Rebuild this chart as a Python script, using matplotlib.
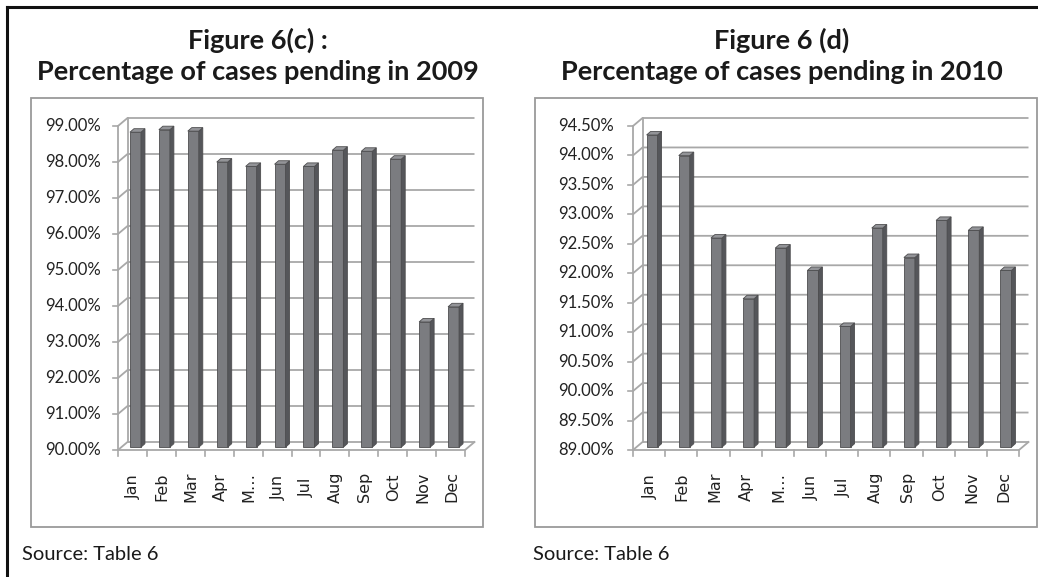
import matplotlib
matplotlib.use("Agg")
import matplotlib.pyplot as plt
import numpy as np
from matplotlib.patches import Rectangle
from matplotlib.lines import Line2D

months = ["Jan", "Feb", "Mar", "Apr", "M…", "Jun", "Jul", "Aug", "Sep", "Oct", "Nov", "Dec"]
pending_2009 = [98.75, 98.82, 98.78, 97.92, 97.80, 97.86, 97.80, 98.25, 98.22, 98.00, 93.48, 93.90]
pending_2010 = [94.30, 93.95, 92.55, 91.52, 92.38, 92.00, 91.05, 92.72, 92.22, 92.85, 92.68, 92.00]
ticks_2009 = np.arange(90, 99.01, 1.0)
ticks_2010 = np.arange(89, 94.51, 0.5)

W, H = 1038, 577
GRID = "#a8a8a8"
FRONT = "#7b7c80"
SIDE = "#55565a"
TOP = "#939498"
EDGE = "#4d4d4f"

fig = plt.figure(figsize=(W / 100, H / 100), dpi=100)
fig.patch.set_facecolor("white")


def fig_line(xs, ys, **kw):
    fig.add_artist(Line2D([x / W for x in xs], [1 - y / H for y in ys], **kw))


def draw_chart(x0, x1, ytop, ybot, values, ticks, lab_right):
    ax = fig.add_axes([x0 / W, 1 - ybot / H, (x1 - x0) / W, (ybot - ytop) / H])
    lo, hi = ticks[0], ticks[-1]
    n = len(values)
    ax.set_xlim(-0.5, n - 0.5)
    ax.set_ylim(lo, hi)
    ax.axis("off")
    sx = n / (x1 - x0)
    sy = (hi - lo) / (ybot - ytop)
    dx, dy = 9.5 * sx, 8 * sy  # back wall offset

    # gridlines: side wall slant + back wall
    for t in ticks:
        ax.plot([-0.5, -0.5 + dx, n - 0.5 + dx], [t, t + dy, t + dy], color=GRID, lw=1.3,
                clip_on=False, zorder=1, solid_capstyle="butt")
        ax.plot([-0.5 - 5 * sx, -0.5], [t, t], color=GRID, lw=1.2, clip_on=False, zorder=1)
        ax.text(-0.5 - (x0 - lab_right) * sx, t, f"{t:.2f}%", ha="right", va="center",
                fontsize=12, family="Lato", color="#222222")
    ax.plot([-0.5, -0.5], [lo, hi], color=GRID, lw=1.3, clip_on=False, zorder=1)
    ax.plot([-0.5 + dx, -0.5 + dx], [lo + dy, hi + dy], color=GRID, lw=1.3, clip_on=False, zorder=1)
    # floor front edge + right slant
    ax.plot([-0.5, n - 0.5, n - 0.5 + dx], [lo, lo, lo + dy], color=GRID, lw=1.3,
            clip_on=False, zorder=4)
    for k in range(n + 1):
        ax.plot([k - 0.5, k - 0.5], [lo, lo - 6 * sy], color=GRID, lw=1.2, clip_on=False, zorder=1)

    # 3D-ish bars
    bw = 11 * sx
    ox, oy = 3 * sx, 2.8 * sy
    ddx, ddy = 4 * sx, 3.5 * sy
    for i, v in enumerate(values):
        left = i - bw / 2 + ox
        ax.add_patch(Rectangle((left, lo + oy), bw, v - lo, facecolor=FRONT, edgecolor=EDGE,
                               lw=0.6, clip_on=False, zorder=3))
        r = left + bw
        top = v + oy
        ax.fill([r, r + ddx, r + ddx, r], [lo + oy, lo + oy + ddy, top + ddy, top],
                facecolor=SIDE, edgecolor=EDGE, lw=0.6, clip_on=False, zorder=3)
        ax.fill([left, left + ddx, r + ddx, r], [top, top + ddy, top + ddy, top],
                facecolor=TOP, edgecolor=EDGE, lw=0.6, clip_on=False, zorder=3)
        ax.text(i + 0.03, lo - 37 * sy, months[i], rotation=90, ha="center", va="center",
                fontsize=11.5, family="DejaVu Sans", color="#222222")
    return ax


# outer frame
fig_line([7, 7], [7, H], color="#111111", lw=2.2)
fig_line([7, W], [7, 7], color="#111111", lw=2.2)

# chart boxes
for bx0, bx1 in [(31, 483), (535, 1037)]:
    fig.add_artist(Rectangle((bx0 / W, 1 - 527 / H), (bx1 - bx0) / W, (527 - 98) / H,
                             transform=fig.transFigure, fill=False, edgecolor="#9a9a9a", lw=1.3))

draw_chart(118, 465, 126, 450, pending_2009, ticks_2009, 101)
draw_chart(633, 1019, 126, 450, pending_2010, ticks_2010, 614)

title_kw = dict(ha="center", va="center", fontsize=19.5, fontweight="bold", family="Lato", color="#1a1a1a")
fig.text(258 / W, 1 - 40 / H, "Figure 6(c) :", **title_kw)
fig.text(258 / W, 1 - 72 / H, "Percentage of cases pending in 2009", **title_kw)
fig.text(782 / W, 1 - 40 / H, "Figure 6 (d)", **title_kw)
fig.text(782 / W, 1 - 72 / H, "Percentage of cases pending in 2010", **title_kw)

src_kw = dict(ha="left", va="center", fontsize=14.5, family="Lato", color="#1a1a1a")
fig.text(22 / W, 1 - 555 / H, "Source: Table 6", **src_kw)
fig.text(533 / W, 1 - 555 / H, "Source: Table 6", **src_kw)

fig.savefig("out.png", dpi=100, facecolor="white")
